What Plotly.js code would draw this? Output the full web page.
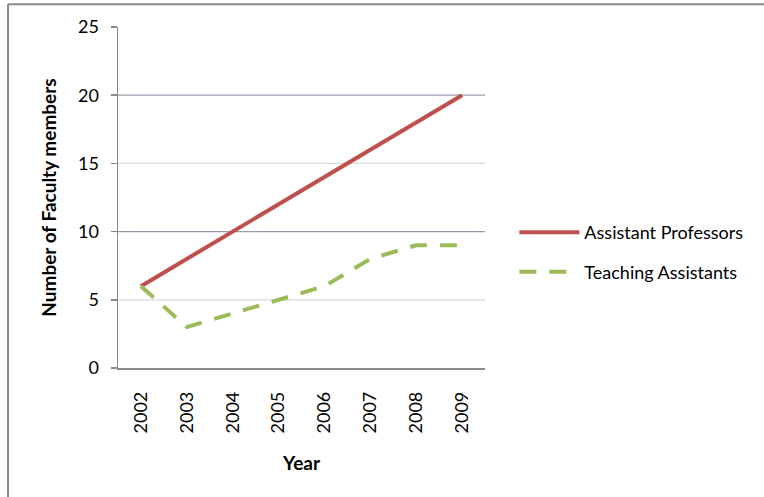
<!DOCTYPE html>
<html>
<head>
<meta charset="utf-8">
<script src="https://cdn.plot.ly/plotly-3.0.1.min.js"></script>
<style>
  html, body { margin: 0; padding: 0; background: #ffffff; }
  #chart { width: 764px; height: 497px; }
</style>
</head>
<body>
<div id="chart"></div>
<script>
// Faculty counts by year
const years = ['2002', '2003', '2004', '2005', '2006', '2007', '2008', '2009'];
const assistantProfessors = [6, 8, 10, 12, 14, 16, 18, 20];
const teachingAssistants = [6, 3, 4, 5, 6, 8, 9, 9];
const yTicks = [0, 5, 10, 15, 20, 25];
const gridLevels = [5, 10, 15, 20];
const gridColors = ['#d9d9d9', '#9a9cab', '#d9d9d9', '#9a9cab'];

const FONT = 'Lato, "Open Sans", sans-serif';

const traces = [
  {
    x: years, y: assistantProfessors, name: 'Assistant Professors',
    type: 'scatter', mode: 'lines', legendgroup: 'ap',
    line: { color: '#C0504D', width: 4 }
  },
  {
    x: years, y: teachingAssistants, name: 'Teaching Assistants',
    type: 'scatter', mode: 'lines', legendgroup: 'ta',
    line: { color: '#9BBB59', width: 4, dash: '17px,13px' }
  }
];

// Horizontal gridlines, drawn beneath the data
const shapes = gridLevels.map((v, i) => ({
  type: 'line', xref: 'paper', yref: 'y', layer: 'below',
  x0: 0, x1: 1, y0: v, y1: v,
  line: { color: gridColors[i], width: 1.3 }
}));

// Outer frame (left and top edges)
shapes.push(
  { type: 'line', xref: 'paper', yref: 'paper', x0: -0.2997, x1: -0.2997, y0: -1, y1: 1.0665,
    line: { color: '#8a8a8a', width: 2 } },
  { type: 'line', xref: 'paper', yref: 'paper', x0: -0.2997, x1: 2, y0: 1.0665, y1: 1.0665,
    line: { color: '#8a8a8a', width: 2 } }
);

const layout = {
  width: 764, height: 497,
  margin: { l: 118, r: 279, t: 27, b: 129, pad: 0 },
  paper_bgcolor: '#ffffff', plot_bgcolor: '#ffffff',
  font: { family: FONT, size: 18, color: '#000000' },
  showlegend: true,
  legend: {
    x: 1.08, y: 0.34, xanchor: 'left', yanchor: 'middle',
    font: { family: FONT, size: 18, color: '#000000' },
    traceorder: 'grouped', tracegroupgap: 13, itemwidth: 60,
    bgcolor: 'rgba(0,0,0,0)'
  },
  xaxis: {
    type: 'category', range: [-0.5, 7.5],
    showgrid: false, zeroline: false,
    showline: true, linecolor: '#8a8a8a', linewidth: 1.5,
    ticks: '', tickangle: -90, ticklabelstandoff: 15,
    tickfont: { family: FONT, size: 18, color: '#000000' },
    title: { text: 'Year', font: { family: FONT, size: 19, color: '#000000', weight: 'bold' }, standoff: 24 }
  },
  yaxis: {
    range: [0, 25], tickmode: 'array', tickvals: yTicks,
    showgrid: false, zeroline: false,
    showline: true, linecolor: '#8a8a8a', linewidth: 1.5,
    ticks: 'outside', ticklen: 6, tickcolor: '#8a8a8a', tickwidth: 1.5,
    ticklabelstandoff: 8,
    tickfont: { family: FONT, size: 18, color: '#000000' },
    title: { text: 'Number of Faculty members', font: { family: FONT, size: 19, color: '#000000', weight: 'bold' }, standoff: 16 }
  },
  shapes: shapes
};

Plotly.newPlot('chart', traces, layout, { displayModeBar: false, staticPlot: true });
</script>
</body>
</html>
